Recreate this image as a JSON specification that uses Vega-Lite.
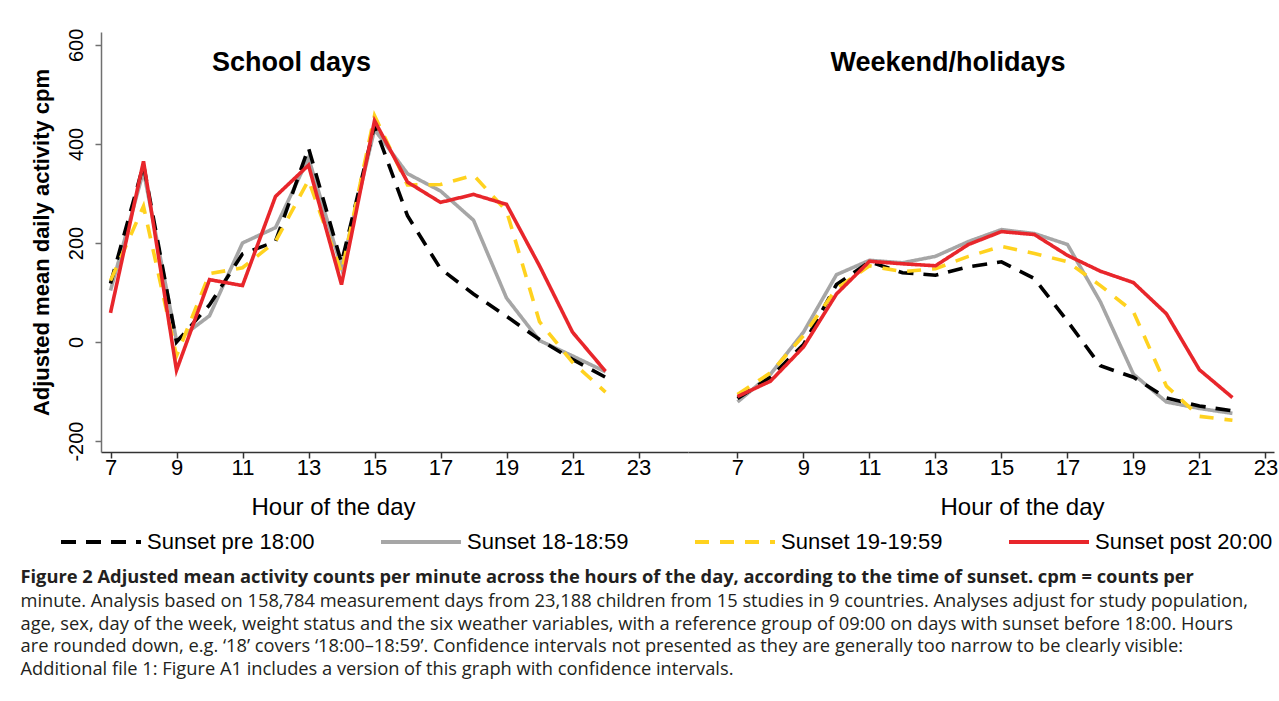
{
  "$schema": "https://vega.github.io/schema/vega-lite/v6.json",
  "padding": {"left": 20, "top": 28, "right": 2, "bottom": 5},
  "background": "white",
  "spacing": 0,
  "config": {
    "view": {"stroke": null},
    "font": "Liberation Sans",
    "axis": {"grid": false, "labelColor": "#000", "titleColor": "#000", "labelFont": "Liberation Sans", "titleFont": "Liberation Sans"},
    "legend": {"orient": "none", "legendX": -42, "legendY": 468, "direction": "horizontal", "columns": 4, "padding": 0, "symbolType": "stroke", "symbolSize": 6400, "symbolStrokeWidth": 4, "labelFontSize": 22, "labelFont": "Liberation Sans", "labelColor": "#000", "labelOffset": 4, "columnPadding": 58, "labelLimit": 400}
  },
  "title": {
    "text": "Figure 2 Adjusted mean activity counts per minute across the hours of the day, according to the time of sunset. cpm = counts per",
    "subtitle": [
      "minute. Analysis based on 158,784 measurement days from 23,188 children from 15 studies in 9 countries. Analyses adjust for study population,",
      "age, sex, day of the week, weight status and the six weather variables, with a reference group of 09:00 on days with sunset before 18:00. Hours",
      "are rounded down, e.g. ‘18’ covers ‘18:00–18:59’. Confidence intervals not presented as they are generally too narrow to be clearly visible:",
      "Additional file 1: Figure A1 includes a version of this graph with confidence intervals."
    ],
    "orient": "bottom",
    "anchor": "start",
    "frame": "bounds",
    "offset": 16,
    "dx": -10,
    "font": "Open Sans",
    "fontSize": 18.3,
    "fontWeight": "bold",
    "color": "#231f20",
    "lineHeight": 22.5,
    "subtitleFont": "Open Sans",
    "subtitleFontSize": 18.3,
    "subtitleColor": "#231f20",
    "subtitleLineHeight": 22.5,
    "subtitlePadding": 6
  },
  "datasets": {
    "activity": [
      {"day": "School days", "series": "Sunset pre 18:00", "hour": 7, "cpm": 118},
      {"day": "School days", "series": "Sunset pre 18:00", "hour": 8, "cpm": 358},
      {"day": "School days", "series": "Sunset pre 18:00", "hour": 9, "cpm": 0},
      {"day": "School days", "series": "Sunset pre 18:00", "hour": 10, "cpm": 75},
      {"day": "School days", "series": "Sunset pre 18:00", "hour": 11, "cpm": 178},
      {"day": "School days", "series": "Sunset pre 18:00", "hour": 12, "cpm": 203},
      {"day": "School days", "series": "Sunset pre 18:00", "hour": 13, "cpm": 392},
      {"day": "School days", "series": "Sunset pre 18:00", "hour": 14, "cpm": 160},
      {"day": "School days", "series": "Sunset pre 18:00", "hour": 15, "cpm": 437},
      {"day": "School days", "series": "Sunset pre 18:00", "hour": 16, "cpm": 255},
      {"day": "School days", "series": "Sunset pre 18:00", "hour": 17, "cpm": 148},
      {"day": "School days", "series": "Sunset pre 18:00", "hour": 18, "cpm": 97},
      {"day": "School days", "series": "Sunset pre 18:00", "hour": 19, "cpm": 52},
      {"day": "School days", "series": "Sunset pre 18:00", "hour": 20, "cpm": 5},
      {"day": "School days", "series": "Sunset pre 18:00", "hour": 21, "cpm": -35},
      {"day": "School days", "series": "Sunset pre 18:00", "hour": 22, "cpm": -71},
      {"day": "School days", "series": "Sunset 18-18:59", "hour": 7, "cpm": 104},
      {"day": "School days", "series": "Sunset 18-18:59", "hour": 8, "cpm": 345},
      {"day": "School days", "series": "Sunset 18-18:59", "hour": 9, "cpm": 3},
      {"day": "School days", "series": "Sunset 18-18:59", "hour": 10, "cpm": 53},
      {"day": "School days", "series": "Sunset 18-18:59", "hour": 11, "cpm": 200},
      {"day": "School days", "series": "Sunset 18-18:59", "hour": 12, "cpm": 231},
      {"day": "School days", "series": "Sunset 18-18:59", "hour": 13, "cpm": 372},
      {"day": "School days", "series": "Sunset 18-18:59", "hour": 14, "cpm": 150},
      {"day": "School days", "series": "Sunset 18-18:59", "hour": 15, "cpm": 429},
      {"day": "School days", "series": "Sunset 18-18:59", "hour": 16, "cpm": 340},
      {"day": "School days", "series": "Sunset 18-18:59", "hour": 17, "cpm": 305},
      {"day": "School days", "series": "Sunset 18-18:59", "hour": 18, "cpm": 246},
      {"day": "School days", "series": "Sunset 18-18:59", "hour": 19, "cpm": 89},
      {"day": "School days", "series": "Sunset 18-18:59", "hour": 20, "cpm": 3},
      {"day": "School days", "series": "Sunset 18-18:59", "hour": 21, "cpm": -28},
      {"day": "School days", "series": "Sunset 18-18:59", "hour": 22, "cpm": -60},
      {"day": "School days", "series": "Sunset 19-19:59", "hour": 7, "cpm": 124},
      {"day": "School days", "series": "Sunset 19-19:59", "hour": 8, "cpm": 274},
      {"day": "School days", "series": "Sunset 19-19:59", "hour": 9, "cpm": -28},
      {"day": "School days", "series": "Sunset 19-19:59", "hour": 10, "cpm": 138},
      {"day": "School days", "series": "Sunset 19-19:59", "hour": 11, "cpm": 150},
      {"day": "School days", "series": "Sunset 19-19:59", "hour": 12, "cpm": 203},
      {"day": "School days", "series": "Sunset 19-19:59", "hour": 13, "cpm": 327},
      {"day": "School days", "series": "Sunset 19-19:59", "hour": 14, "cpm": 140},
      {"day": "School days", "series": "Sunset 19-19:59", "hour": 15, "cpm": 457},
      {"day": "School days", "series": "Sunset 19-19:59", "hour": 16, "cpm": 317},
      {"day": "School days", "series": "Sunset 19-19:59", "hour": 17, "cpm": 318},
      {"day": "School days", "series": "Sunset 19-19:59", "hour": 18, "cpm": 337},
      {"day": "School days", "series": "Sunset 19-19:59", "hour": 19, "cpm": 265},
      {"day": "School days", "series": "Sunset 19-19:59", "hour": 20, "cpm": 41},
      {"day": "School days", "series": "Sunset 19-19:59", "hour": 21, "cpm": -41},
      {"day": "School days", "series": "Sunset 19-19:59", "hour": 22, "cpm": -101},
      {"day": "School days", "series": "Sunset post 20:00", "hour": 7, "cpm": 59},
      {"day": "School days", "series": "Sunset post 20:00", "hour": 8, "cpm": 365},
      {"day": "School days", "series": "Sunset post 20:00", "hour": 9, "cpm": -57},
      {"day": "School days", "series": "Sunset post 20:00", "hour": 10, "cpm": 126},
      {"day": "School days", "series": "Sunset post 20:00", "hour": 11, "cpm": 114},
      {"day": "School days", "series": "Sunset post 20:00", "hour": 12, "cpm": 294},
      {"day": "School days", "series": "Sunset post 20:00", "hour": 13, "cpm": 357},
      {"day": "School days", "series": "Sunset post 20:00", "hour": 14, "cpm": 116},
      {"day": "School days", "series": "Sunset post 20:00", "hour": 15, "cpm": 447},
      {"day": "School days", "series": "Sunset post 20:00", "hour": 16, "cpm": 323},
      {"day": "School days", "series": "Sunset post 20:00", "hour": 17, "cpm": 282},
      {"day": "School days", "series": "Sunset post 20:00", "hour": 18, "cpm": 298},
      {"day": "School days", "series": "Sunset post 20:00", "hour": 19, "cpm": 278},
      {"day": "School days", "series": "Sunset post 20:00", "hour": 20, "cpm": 154},
      {"day": "School days", "series": "Sunset post 20:00", "hour": 21, "cpm": 20},
      {"day": "School days", "series": "Sunset post 20:00", "hour": 22, "cpm": -59},
      {"day": "Weekend/holidays", "series": "Sunset pre 18:00", "hour": 7, "cpm": -114},
      {"day": "Weekend/holidays", "series": "Sunset pre 18:00", "hour": 8, "cpm": -71},
      {"day": "Weekend/holidays", "series": "Sunset pre 18:00", "hour": 9, "cpm": -5},
      {"day": "Weekend/holidays", "series": "Sunset pre 18:00", "hour": 10, "cpm": 116},
      {"day": "Weekend/holidays", "series": "Sunset pre 18:00", "hour": 11, "cpm": 162},
      {"day": "Weekend/holidays", "series": "Sunset pre 18:00", "hour": 12, "cpm": 140},
      {"day": "Weekend/holidays", "series": "Sunset pre 18:00", "hour": 13, "cpm": 135},
      {"day": "Weekend/holidays", "series": "Sunset pre 18:00", "hour": 14, "cpm": 152},
      {"day": "Weekend/holidays", "series": "Sunset pre 18:00", "hour": 15, "cpm": 162},
      {"day": "Weekend/holidays", "series": "Sunset pre 18:00", "hour": 16, "cpm": 128},
      {"day": "Weekend/holidays", "series": "Sunset pre 18:00", "hour": 17, "cpm": 42},
      {"day": "Weekend/holidays", "series": "Sunset pre 18:00", "hour": 18, "cpm": -48},
      {"day": "Weekend/holidays", "series": "Sunset pre 18:00", "hour": 19, "cpm": -71},
      {"day": "Weekend/holidays", "series": "Sunset pre 18:00", "hour": 20, "cpm": -113},
      {"day": "Weekend/holidays", "series": "Sunset pre 18:00", "hour": 21, "cpm": -129},
      {"day": "Weekend/holidays", "series": "Sunset pre 18:00", "hour": 22, "cpm": -139},
      {"day": "Weekend/holidays", "series": "Sunset 18-18:59", "hour": 7, "cpm": -121},
      {"day": "Weekend/holidays", "series": "Sunset 18-18:59", "hour": 8, "cpm": -65},
      {"day": "Weekend/holidays", "series": "Sunset 18-18:59", "hour": 9, "cpm": 20},
      {"day": "Weekend/holidays", "series": "Sunset 18-18:59", "hour": 10, "cpm": 136},
      {"day": "Weekend/holidays", "series": "Sunset 18-18:59", "hour": 11, "cpm": 165},
      {"day": "Weekend/holidays", "series": "Sunset 18-18:59", "hour": 12, "cpm": 160},
      {"day": "Weekend/holidays", "series": "Sunset 18-18:59", "hour": 13, "cpm": 173},
      {"day": "Weekend/holidays", "series": "Sunset 18-18:59", "hour": 14, "cpm": 203},
      {"day": "Weekend/holidays", "series": "Sunset 18-18:59", "hour": 15, "cpm": 227},
      {"day": "Weekend/holidays", "series": "Sunset 18-18:59", "hour": 16, "cpm": 219},
      {"day": "Weekend/holidays", "series": "Sunset 18-18:59", "hour": 17, "cpm": 197},
      {"day": "Weekend/holidays", "series": "Sunset 18-18:59", "hour": 18, "cpm": 81},
      {"day": "Weekend/holidays", "series": "Sunset 18-18:59", "hour": 19, "cpm": -65},
      {"day": "Weekend/holidays", "series": "Sunset 18-18:59", "hour": 20, "cpm": -121},
      {"day": "Weekend/holidays", "series": "Sunset 18-18:59", "hour": 21, "cpm": -134},
      {"day": "Weekend/holidays", "series": "Sunset 18-18:59", "hour": 22, "cpm": -144},
      {"day": "Weekend/holidays", "series": "Sunset 19-19:59", "hour": 7, "cpm": -106},
      {"day": "Weekend/holidays", "series": "Sunset 19-19:59", "hour": 8, "cpm": -62},
      {"day": "Weekend/holidays", "series": "Sunset 19-19:59", "hour": 9, "cpm": 13},
      {"day": "Weekend/holidays", "series": "Sunset 19-19:59", "hour": 10, "cpm": 108},
      {"day": "Weekend/holidays", "series": "Sunset 19-19:59", "hour": 11, "cpm": 154},
      {"day": "Weekend/holidays", "series": "Sunset 19-19:59", "hour": 12, "cpm": 142},
      {"day": "Weekend/holidays", "series": "Sunset 19-19:59", "hour": 13, "cpm": 148},
      {"day": "Weekend/holidays", "series": "Sunset 19-19:59", "hour": 14, "cpm": 173},
      {"day": "Weekend/holidays", "series": "Sunset 19-19:59", "hour": 15, "cpm": 193},
      {"day": "Weekend/holidays", "series": "Sunset 19-19:59", "hour": 16, "cpm": 179},
      {"day": "Weekend/holidays", "series": "Sunset 19-19:59", "hour": 17, "cpm": 162},
      {"day": "Weekend/holidays", "series": "Sunset 19-19:59", "hour": 18, "cpm": 114},
      {"day": "Weekend/holidays", "series": "Sunset 19-19:59", "hour": 19, "cpm": 61},
      {"day": "Weekend/holidays", "series": "Sunset 19-19:59", "hour": 20, "cpm": -89},
      {"day": "Weekend/holidays", "series": "Sunset 19-19:59", "hour": 21, "cpm": -150},
      {"day": "Weekend/holidays", "series": "Sunset 19-19:59", "hour": 22, "cpm": -158},
      {"day": "Weekend/holidays", "series": "Sunset post 20:00", "hour": 7, "cpm": -110},
      {"day": "Weekend/holidays", "series": "Sunset post 20:00", "hour": 8, "cpm": -79},
      {"day": "Weekend/holidays", "series": "Sunset post 20:00", "hour": 9, "cpm": -10},
      {"day": "Weekend/holidays", "series": "Sunset post 20:00", "hour": 10, "cpm": 97},
      {"day": "Weekend/holidays", "series": "Sunset post 20:00", "hour": 11, "cpm": 163},
      {"day": "Weekend/holidays", "series": "Sunset post 20:00", "hour": 12, "cpm": 158},
      {"day": "Weekend/holidays", "series": "Sunset post 20:00", "hour": 13, "cpm": 154},
      {"day": "Weekend/holidays", "series": "Sunset post 20:00", "hour": 14, "cpm": 197},
      {"day": "Weekend/holidays", "series": "Sunset post 20:00", "hour": 15, "cpm": 223},
      {"day": "Weekend/holidays", "series": "Sunset post 20:00", "hour": 16, "cpm": 217},
      {"day": "Weekend/holidays", "series": "Sunset post 20:00", "hour": 17, "cpm": 175},
      {"day": "Weekend/holidays", "series": "Sunset post 20:00", "hour": 18, "cpm": 143},
      {"day": "Weekend/holidays", "series": "Sunset post 20:00", "hour": 19, "cpm": 120},
      {"day": "Weekend/holidays", "series": "Sunset post 20:00", "hour": 20, "cpm": 57},
      {"day": "Weekend/holidays", "series": "Sunset post 20:00", "hour": 21, "cpm": -56},
      {"day": "Weekend/holidays", "series": "Sunset post 20:00", "hour": 22, "cpm": -112}
    ]
  },
  "hconcat": [
    {
      "width": 587,
      "height": 420,
      "title": {"text": "School days", "orient": "top", "anchor": "middle", "offset": -49, "dx": -103, "fontSize": 27, "fontWeight": "bold", "font": "Liberation Sans", "color": "#000"},
      "layer": [
        {"mark": {"type": "rule", "color": "#8a8a8a", "strokeWidth": 1.5}, "encoding": {"y": {"datum": 0, "type": "quantitative", "scale": {"domain": [-222, 626], "nice": false, "zero": false}}}},
        {
          "data": {"name": "activity"},
          "encoding": {
            "x": {"field": "hour", "type": "quantitative", "scale": {"domain": [6.712, 24.5], "nice": false, "zero": false},
              "axis": {"values": [7, 9, 11, 13, 15, 17, 19, 21, 23], "title": "Hour of the day", "titleFontSize": 24, "titleFontWeight": "normal", "titleX": 232, "titleY": 62, "titleBaseline": "alphabetic", "titleAlign": "center", "labelFontSize": 22, "labelPadding": -1, "tickSize": 6, "tickWidth": 1.5, "domainWidth": 1.5, "domainColor": "#333", "tickColor": "#333", "labelFlush": false}},
            "y": {"field": "cpm", "type": "quantitative", "scale": {"domain": [-222, 626], "nice": false, "zero": false},
              "axis": {"values": [-200, 0, 200, 400, 600], "labelExpr": "'' + datum.value", "title": "Adjusted mean daily activity cpm", "titleFontSize": 22, "titleFontWeight": "bold", "titlePadding": 13, "labelAngle": -90, "labelAlign": "center", "labelBaseline": "alphabetic", "labelFontSize": 20, "labelPadding": 12.5, "tickSize": 6, "tickWidth": 1.5, "domainWidth": 1.5, "domainColor": "#707070", "tickColor": "#707070", "labelFlush": false}},
            "color": {"field": "series", "type": "nominal", "scale": {"domain": ["Sunset pre 18:00", "Sunset 18-18:59", "Sunset 19-19:59", "Sunset post 20:00"], "range": ["#000000", "#a6a6a6", "#ffd21f", "#e8262b"]}, "legend": {"title": null}},
            "strokeDash": {"field": "series", "type": "nominal", "scale": {"domain": ["Sunset pre 18:00", "Sunset 18-18:59", "Sunset 19-19:59", "Sunset post 20:00"], "range": [[15, 10], [1, 0], [14, 11], [1, 0]]}, "legend": {"title": null}}
          },
          "layer": [
            {"transform": [{"filter": "datum.day === 'School days' && datum.series === 'Sunset 18-18:59'"}], "mark": {"type": "line", "strokeWidth": 3.6}},
            {"transform": [{"filter": "datum.day === 'School days' && datum.series === 'Sunset pre 18:00'"}], "mark": {"type": "line", "strokeWidth": 3.6}},
            {"transform": [{"filter": "datum.day === 'School days' && datum.series === 'Sunset 19-19:59'"}], "mark": {"type": "line", "strokeWidth": 3.6}},
            {"transform": [{"filter": "datum.day === 'School days' && datum.series === 'Sunset post 20:00'"}], "mark": {"type": "line", "strokeWidth": 3.6}}
          ]
        }
      ]
    },
    {
      "width": 586,
      "height": 420,
      "title": {"text": "Weekend/holidays", "orient": "top", "anchor": "middle", "offset": -45, "dx": -33, "fontSize": 27, "fontWeight": "bold", "font": "Liberation Sans", "color": "#000"},
      "layer": [
        {"mark": {"type": "rule", "color": "#8a8a8a", "strokeWidth": 1.5}, "encoding": {"y": {"datum": 0, "type": "quantitative", "scale": {"domain": [-222, 626], "nice": false, "zero": false}, "axis": null}}},
        {
          "data": {"name": "activity"},
          "encoding": {
            "x": {"field": "hour", "type": "quantitative", "scale": {"domain": [5.5, 23.26], "nice": false, "zero": false},
              "axis": {"values": [7, 9, 11, 13, 15, 17, 19, 21, 23], "title": "Hour of the day", "titleFontSize": 24, "titleFontWeight": "normal", "titleX": 334, "titleY": 62, "titleBaseline": "alphabetic", "titleAlign": "center", "labelFontSize": 22, "labelPadding": -1, "tickSize": 6, "tickWidth": 1.5, "domainWidth": 1.5, "domainColor": "#333", "tickColor": "#333", "labelFlush": false}},
            "y": {"field": "cpm", "type": "quantitative", "scale": {"domain": [-222, 626], "nice": false, "zero": false}, "axis": null},
            "color": {"field": "series", "type": "nominal", "scale": {"domain": ["Sunset pre 18:00", "Sunset 18-18:59", "Sunset 19-19:59", "Sunset post 20:00"], "range": ["#000000", "#a6a6a6", "#ffd21f", "#e8262b"]}, "legend": {"title": null}},
            "strokeDash": {"field": "series", "type": "nominal", "scale": {"domain": ["Sunset pre 18:00", "Sunset 18-18:59", "Sunset 19-19:59", "Sunset post 20:00"], "range": [[15, 10], [1, 0], [14, 11], [1, 0]]}, "legend": {"title": null}}
          },
          "layer": [
            {"transform": [{"filter": "datum.day === 'Weekend/holidays' && datum.series === 'Sunset 18-18:59'"}], "mark": {"type": "line", "strokeWidth": 3.6}},
            {"transform": [{"filter": "datum.day === 'Weekend/holidays' && datum.series === 'Sunset pre 18:00'"}], "mark": {"type": "line", "strokeWidth": 3.6}},
            {"transform": [{"filter": "datum.day === 'Weekend/holidays' && datum.series === 'Sunset 19-19:59'"}], "mark": {"type": "line", "strokeWidth": 3.6}},
            {"transform": [{"filter": "datum.day === 'Weekend/holidays' && datum.series === 'Sunset post 20:00'"}], "mark": {"type": "line", "strokeWidth": 3.6}}
          ]
        }
      ]
    }
  ]
}
